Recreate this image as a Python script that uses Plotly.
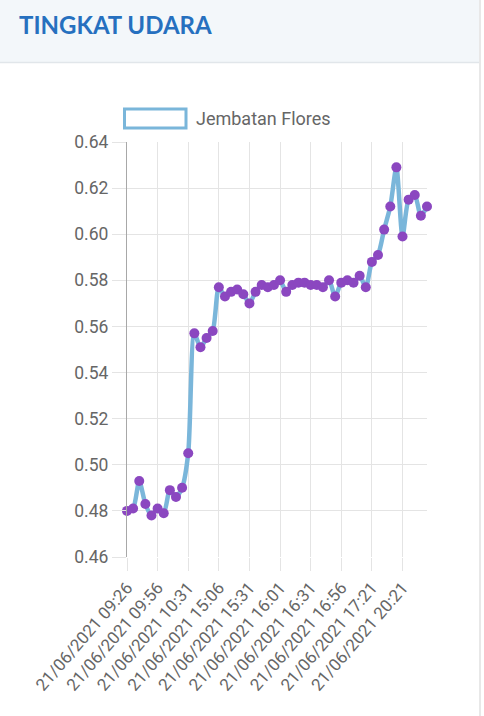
import plotly.graph_objects as go

W, H = 484, 716

# ----------------------------- Data -------------------------------------
# one reading every step, 50 readings; only every 5th timestamp is labelled
tick_labels = [
    '21/06/2021 09:26', '21/06/2021 09:56', '21/06/2021 10:31', '21/06/2021 15:06',
    '21/06/2021 15:31', '21/06/2021 16:01', '21/06/2021 16:31', '21/06/2021 16:56',
    '21/06/2021 17:21', '21/06/2021 20:21',
]
tick_positions = [0, 5, 10, 15, 20, 25, 30, 35, 40, 45]

jembatan_flores = [
    0.480, 0.481, 0.493, 0.483, 0.478, 0.481, 0.479, 0.489, 0.486, 0.490,
    0.505, 0.557, 0.551, 0.555, 0.558, 0.577, 0.573, 0.575, 0.576, 0.574,
    0.570, 0.575, 0.578, 0.577, 0.578, 0.580, 0.575, 0.578, 0.579, 0.579,
    0.578, 0.578, 0.577, 0.580, 0.573, 0.579, 0.580, 0.579, 0.582, 0.577,
    0.588, 0.591, 0.602, 0.612, 0.629, 0.599, 0.615, 0.617, 0.608, 0.612,
]
reading_index = list(range(len(jembatan_flores)))

# ----------------------------- Layout helpers ---------------------------
PLOT_L, PLOT_R, PLOT_T, PLOT_B = 127, 427, 142, 557


def px_x(x):
    return (x - PLOT_L) / (PLOT_R - PLOT_L)


def px_y(y):
    return (PLOT_B - y) / (PLOT_B - PLOT_T)


GRID = '#e4e4e4'
TEXT = '#666666'
LINE_BLUE = '#7ab6da'
DOT = '#8b47c0'

fig = go.Figure()
fig.add_trace(go.Scatter(
    x=reading_index,
    y=jembatan_flores,
    mode='lines+markers',
    name='Jembatan Flores',
    line=dict(color=LINE_BLUE, width=4.5, shape='spline', smoothing=0.7),
    marker=dict(color=DOT, size=10, line=dict(width=0)),
    showlegend=False,
    cliponaxis=False,
))

shapes = [
    # card header
    dict(type='rect', xref='paper', yref='paper', layer='below',
         x0=px_x(0), x1=px_x(479), y0=px_y(62), y1=px_y(0),
         fillcolor='#f3f7fa', line=dict(width=0)),
    dict(type='line', xref='paper', yref='paper',
         x0=px_x(0), x1=px_x(479), y0=px_y(62.5), y1=px_y(62.5),
         line=dict(color='#e1e6ea', width=1.5)),
    # card right border
    dict(type='line', xref='paper', yref='paper',
         x0=px_x(480), x1=px_x(480), y0=px_y(0), y1=px_y(H),
         line=dict(color='#e8e8e8', width=2)),
    # legend swatch
    dict(type='rect', xref='paper', yref='paper',
         x0=px_x(124.5), x1=px_x(186), y0=px_y(128), y1=px_y(109),
         fillcolor='white', line=dict(color=LINE_BLUE, width=3)),
]

annotations = [
    dict(text='TINGKAT UDARA', xref='paper', yref='paper',
         x=px_x(17), y=px_y(25), xanchor='left', yanchor='middle', showarrow=False,
         font=dict(family='Lato', size=24, color='#2670bf', weight='bold')),
    dict(text='Jembatan Flores', xref='paper', yref='paper',
         x=px_x(194), y=px_y(118.5), xanchor='left', yanchor='middle', showarrow=False,
         font=dict(family='Roboto', size=18, color=TEXT)),
]

fig.update_layout(
    width=W,
    height=H,
    margin=dict(l=PLOT_L, r=W - PLOT_R, t=PLOT_T, b=H - PLOT_B, pad=0),
    paper_bgcolor='white',
    plot_bgcolor='white',
    font=dict(family='Roboto', size=17.5, color=TEXT),
    shapes=shapes,
    annotations=annotations,
    showlegend=False,
)

fig.update_xaxes(
    range=[0, len(jembatan_flores) - 1],
    tickmode='array',
    tickvals=tick_positions,
    ticktext=tick_labels,
    tickangle=-49,
    tickfont=dict(size=17),
    showgrid=True,
    gridcolor=GRID,
    gridwidth=1,
    ticks='outside',
    ticklen=13,
    tickcolor=GRID,
    showline=False,
    zeroline=False,
)

fig.update_yaxes(
    range=[0.46, 0.64],
    dtick=0.02,
    tick0=0.46,
    tickformat='.2f',
    showgrid=True,
    gridcolor=GRID,
    gridwidth=1,
    ticks='outside',
    ticklen=14,
    tickcolor=GRID,
    showline=True,
    linecolor='#a8a8a8',
    linewidth=1.2,
    zeroline=False,
)

# the page's default body margin would push the figure 8px off the window corner
fig.write_html("out.html", config={'displayModeBar': False},
               post_script="document.body.style.margin='0';")
